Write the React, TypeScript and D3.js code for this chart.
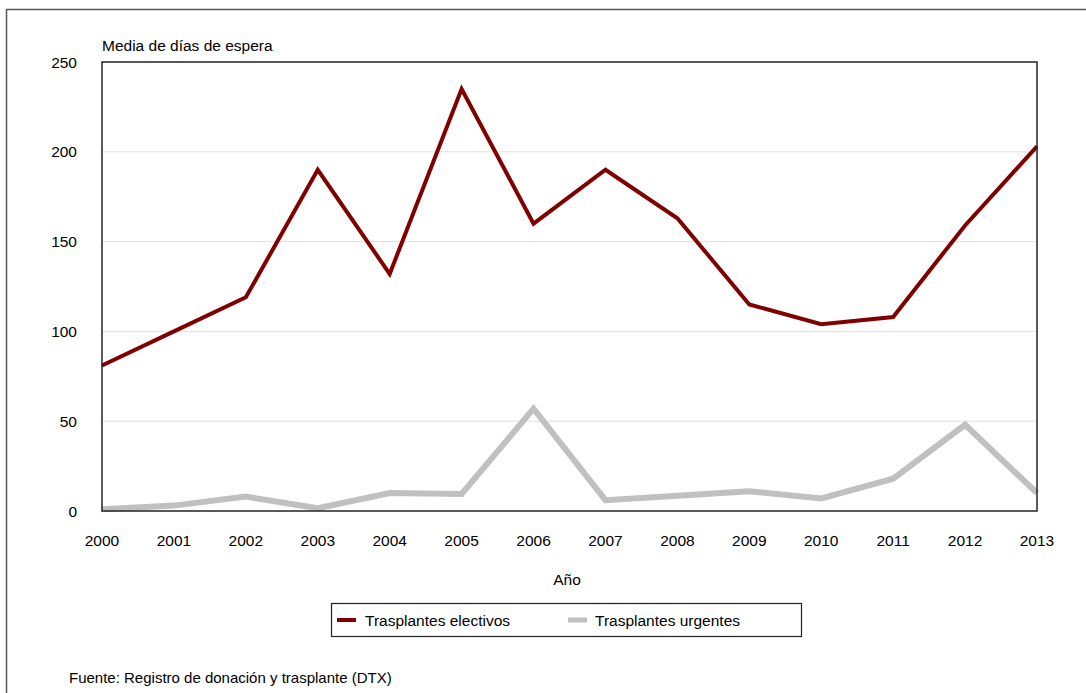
import * as d3 from "d3";

const years = [2000, 2001, 2002, 2003, 2004, 2005, 2006, 2007, 2008, 2009, 2010, 2011, 2012, 2013];
const electivos = [81, 100, 119, 190, 132, 235, 160, 190, 163, 115, 104, 108, 159, 203];
const urgentes = [1, 3, 8, 1.5, 10, 9.5, 57, 6, 8.5, 11, 7, 18, 48, 10];
const yTicks = [0, 50, 100, 150, 200, 250];

const W = 1086;
const H = 693;
const plot = { left: 102, right: 1037, top: 62, bottom: 511 };
const font = "'Liberation Sans', Arial, sans-serif";

export default function App() {
  const x = d3.scaleLinear().domain([2000, 2013]).range([plot.left, plot.right]);
  const y = d3.scaleLinear().domain([0, 250]).range([plot.bottom, plot.top]);

  const line = d3
    .line<number>()
    .x((_, i) => x(years[i]))
    .y((d) => y(d));

  return (
    <svg
      width={W}
      height={H}
      style={{ position: "absolute", left: 0, top: 0, background: "#fff" }}
      fontFamily={font}
    >
      {/* outer frame */}
      <rect x={6.5} y={9.5} width={W + 20} height={H + 20} fill="none" stroke="#555" strokeWidth={1.5} />

      {/* gridlines */}
      {yTicks.slice(1, -1).map((t) => (
        <line key={t} x1={plot.left} x2={plot.right} y1={y(t)} y2={y(t)} stroke="#e0e0e0" strokeWidth={1} />
      ))}

      {/* series */}
      <path d={line(urgentes) || ""} fill="none" stroke="#c0c0c0" strokeWidth={6} strokeLinejoin="miter" />
      <path d={line(electivos) || ""} fill="none" stroke="#800000" strokeWidth={4} strokeLinejoin="miter" />

      {/* plot frame */}
      <rect
        x={plot.left}
        y={plot.top}
        width={plot.right - plot.left}
        height={plot.bottom - plot.top}
        fill="none"
        stroke="#222"
        strokeWidth={1.5}
      />

      {/* y ticks */}
      {yTicks.map((t) => (
        <text key={t} x={77} y={y(t) + 5.5} textAnchor="end" fontSize={15.5} fill="#000">
          {t}
        </text>
      ))}

      {/* x ticks */}
      {years.map((yr) => (
        <text key={yr} x={x(yr)} y={546} textAnchor="middle" fontSize={15.5} fill="#000">
          {yr}
        </text>
      ))}

      <text x={plot.left} y={51} fontSize={15.5} fill="#000">
        Media de días de espera
      </text>
      <text x={567} y={585} textAnchor="middle" fontSize={15.5} fill="#000">
        Año
      </text>

      {/* legend */}
      <rect x={331.5} y={603.5} width={470} height={33} fill="#fff" stroke="#222" strokeWidth={1.2} />
      <line x1={337} x2={356} y1={620} y2={620} stroke="#800000" strokeWidth={4} />
      <text x={365} y={626} fontSize={15.5} fill="#000">
        Trasplantes electivos
      </text>
      <line x1={568} x2={587} y1={620} y2={620} stroke="#c0c0c0" strokeWidth={5} />
      <text x={595} y={626} fontSize={15.5} fill="#000">
        Trasplantes urgentes
      </text>

      <text x={69} y={683} fontSize={15} fill="#000">
        Fuente: Registro de donación y trasplante (DTX)
      </text>
    </svg>
  );
}
